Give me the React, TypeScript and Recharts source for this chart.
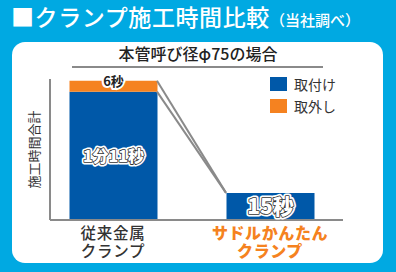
import React from 'react';
import { BarChart, Bar, XAxis, YAxis, ReferenceLine, LabelList, Legend } from 'recharts';

const categories = ['従来金属クランプ', 'サドルかんたんクランプ'];
const categoryLines = [['従来金属', 'クランプ'], ['サドルかんたん', 'クランプ']];
const attachSeconds = [71, 15];
const removeSeconds = [6, 0];
const attachLabels = ['1分11秒', '15秒'];
const removeLabels = ['6秒', ''];
const seriesNames = ['取付け', '取外し'];
const yDomain = [0, 78];
const titleMain = '■クランプ施工時間比較';
const titleNote = '（当社調べ）';
const subtitle = '本管呼び径φ75の場合';
const yLabel = '施工時間合計';

const FONT = "'Noto Sans CJK JP', 'Noto Sans', sans-serif";
const TICK_FONT = "'Liberation Sans', 'Noto Sans CJK JP', sans-serif";
const BLUE = '#0058A8';
const ORANGE = '#F58220';
const SKY = '#00A9E2';
const GRAY = '#8A8A8A';
const BAR_SIZE = 88;

const data = categories.map((name, i) => ({
  name,
  attach: attachSeconds[i],
  remove: removeSeconds[i],
}));

const totals = categories.map((_, i) => attachSeconds[i] + removeSeconds[i]);

const connectorSegments = [
  [
    { x: categories[0], y: totals[0] },
    { x: categories[1], y: totals[1] },
  ],
  [
    { x: categories[0], y: attachSeconds[0] },
    { x: categories[1], y: totals[1] },
  ],
];

const ConnectorShape = (props: any) => {
  const { x1, y1, x2, y2 } = props;
  const half = BAR_SIZE / 2;
  return (
    <line
      x1={x1 + half}
      y1={y1}
      x2={x2 - half}
      y2={y2}
      stroke={GRAY}
      strokeWidth={2}
    />
  );
};

const CategoryTick = (props: any) => {
  const { x, y, payload } = props;
  const idx = categories.indexOf(payload.value);
  const lines = categoryLines[idx] || [String(payload.value)];
  const isNew = idx === 1;
  return (
    <text
      x={x}
      y={y + 18.5}
      textAnchor="middle"
      fontFamily={TICK_FONT}
      fontSize={isNew ? 16 : 15.5}
      fontWeight={isNew ? 900 : 500}
      fill={isNew ? ORANGE : '#333'}
      letterSpacing={isNew ? 0.6 : 0.8}
    >
      {lines.map((ln, k) => (
        <tspan key={k} x={x} dy={k === 0 ? 0 : 18}>
          {ln}
        </tspan>
      ))}
    </text>
  );
};

const getBox = (p: any) => {
  const vb = p.viewBox || {};
  return {
    x: p.x ?? vb.x,
    y: p.y ?? vb.y,
    width: p.width ?? vb.width,
    height: p.height ?? vb.height,
  };
};

const AttachLabel = (props: any) => {
  const { index } = props;
  const b = getBox(props);
  const text = attachLabels[index];
  if (!text) return null;
  const fs = index === 1 ? 21 : 16;
  const cx = b.x + b.width / 2;
  const cy = b.y + b.height / 2 + fs * 0.36;
  return (
    <g>
      <text x={cx} y={cy} textAnchor="middle" fontFamily={FONT} fontSize={fs} fontWeight={900}
        fill="#fff" stroke="#fff" strokeWidth={5} strokeLinejoin="round">{text}</text>
      <text x={cx} y={cy} textAnchor="middle" fontFamily={FONT} fontSize={fs} fontWeight={900}
        fill="#fff" stroke="#333" strokeWidth={1.6} strokeLinejoin="round" paintOrder="stroke">{text}</text>
    </g>
  );
};

const RemoveLabel = (props: any) => {
  const { index } = props;
  const b = getBox(props);
  const text = removeLabels[index];
  if (!text) return null;
  const cx = b.x + b.width / 2;
  const cy = b.y + 5.5;
  return (
    <text x={cx} y={cy} textAnchor="middle" fontFamily={FONT} fontSize={13} fontWeight={700}
      fill="#222" stroke="#fff" strokeWidth={4} strokeLinejoin="round" paintOrder="stroke">{text}</text>
  );
};

const LegendContent = (props: any) => {
  const items = props.payload || [];
  return (
    <div style={{ fontFamily: FONT }}>
      {items.map((it: any, i: number) => (
        <div key={i} style={{ display: 'flex', alignItems: 'center', height: 22 }}>
          <div style={{ width: 17, height: 14, background: it.color, marginRight: 7 }} />
          <span style={{ fontSize: 14, color: '#333', lineHeight: '14px' }}>{it.value}</span>
        </div>
      ))}
    </div>
  );
};

export default function App() {
  return (
    <div style={{ position: 'absolute', left: 0, top: 0, width: 396, height: 272, background: SKY, overflow: 'hidden', fontFamily: FONT }}>
      <div style={{ position: 'absolute', left: 11, top: 1, color: '#fff', whiteSpace: 'nowrap', lineHeight: '30px' }}>
        <span style={{ fontSize: 23, fontWeight: 500, letterSpacing: 0.6 }}>{titleMain}</span>
        <span style={{ fontSize: 15, fontWeight: 500 }}>{titleNote}</span>
      </div>
      <div style={{ position: 'absolute', left: 12, top: 42, width: 371, height: 221, background: '#fff', borderRadius: 13 }} />
      <div style={{ position: 'absolute', left: 0, width: 396, top: 42, textAlign: 'center', fontSize: 16, color: '#222', lineHeight: '22px', fontWeight: 500 }}>
        {subtitle}
      </div>
      <div style={{ position: 'absolute', left: 72, top: 66, width: 251, height: 2, background: GRAY }} />
      <div style={{ position: 'absolute', left: 0, top: 0 }}>
        <BarChart
          width={396}
          height={272}
          data={data}
          margin={{ top: 79, right: 53, bottom: 12, left: 20 }}
        >
          <XAxis
            dataKey="name"
            height={40}
            padding={{ left: -15.5, right: -5.5 }}
            axisLine={{ stroke: GRAY, strokeWidth: 2 }}
            tickLine={false}
            tickSize={0}
            tickMargin={0}
            tick={<CategoryTick />}
            interval={0}
          />
          <YAxis
            domain={yDomain}
            width={30}
            tick={false}
            tickLine={false}
            axisLine={{ stroke: GRAY, strokeWidth: 2 }}
            label={{ value: yLabel, angle: -90, position: 'center', fontFamily: FONT, fontSize: 13, fill: '#333', dx: -1 }}
          />
          <Legend
            layout="vertical"
            verticalAlign="middle"
            align="center"
            content={<LegendContent />}
            wrapperStyle={{ top: 73, left: 270, width: 100 }}
          />
          <Bar dataKey="attach" name={seriesNames[0]} stackId="a" fill={BLUE} barSize={BAR_SIZE} isAnimationActive={false}>
            <LabelList dataKey="attach" content={<AttachLabel />} />
          </Bar>
          <Bar dataKey="remove" name={seriesNames[1]} stackId="a" fill={ORANGE} barSize={BAR_SIZE} isAnimationActive={false}>
            <LabelList dataKey="remove" content={<RemoveLabel />} />
          </Bar>
          {connectorSegments.map((seg, i) => (
            <ReferenceLine key={i} segment={seg} shape={<ConnectorShape />} ifOverflow="visible" />
          ))}
        </BarChart>
      </div>
    </div>
  );
}
